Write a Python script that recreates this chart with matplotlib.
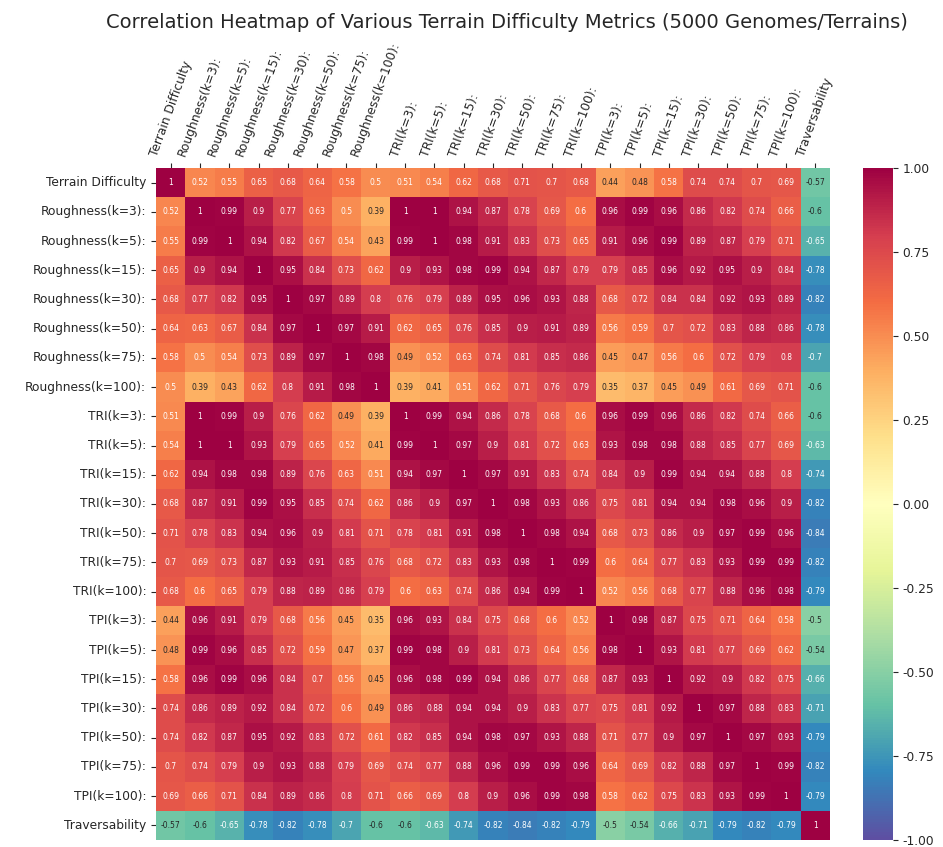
import numpy as np
import matplotlib
matplotlib.use("Agg")
import matplotlib.pyplot as plt
import seaborn as sns

labels = ["Terrain Difficulty",
          "Roughness(k=3):", "Roughness(k=5):", "Roughness(k=15):", "Roughness(k=30):",
          "Roughness(k=50):", "Roughness(k=75):", "Roughness(k=100):",
          "TRI(k=3):", "TRI(k=5):", "TRI(k=15):", "TRI(k=30):",
          "TRI(k=50):", "TRI(k=75):", "TRI(k=100):",
          "TPI(k=3):", "TPI(k=5):", "TPI(k=15):", "TPI(k=30):",
          "TPI(k=50):", "TPI(k=75):", "TPI(k=100):",
          "Traversability"]

# correlation matrix
corr = np.array([
    [1, 0.52, 0.55, 0.65, 0.68, 0.64, 0.58, 0.5, 0.51, 0.54, 0.62, 0.68, 0.71, 0.7, 0.68, 0.44, 0.48, 0.58, 0.74, 0.74, 0.7, 0.69, -0.57],
    [0.52, 1, 0.99, 0.9, 0.77, 0.63, 0.5, 0.39, 1, 1, 0.94, 0.87, 0.78, 0.69, 0.6, 0.96, 0.99, 0.96, 0.86, 0.82, 0.74, 0.66, -0.6],
    [0.55, 0.99, 1, 0.94, 0.82, 0.67, 0.54, 0.43, 0.99, 1, 0.98, 0.91, 0.83, 0.73, 0.65, 0.91, 0.96, 0.99, 0.89, 0.87, 0.79, 0.71, -0.65],
    [0.65, 0.9, 0.94, 1, 0.95, 0.84, 0.73, 0.62, 0.9, 0.93, 0.98, 0.99, 0.94, 0.87, 0.79, 0.79, 0.85, 0.96, 0.92, 0.95, 0.9, 0.84, -0.78],
    [0.68, 0.77, 0.82, 0.95, 1, 0.97, 0.89, 0.8, 0.76, 0.79, 0.89, 0.95, 0.96, 0.93, 0.88, 0.68, 0.72, 0.84, 0.84, 0.92, 0.93, 0.89, -0.82],
    [0.64, 0.63, 0.67, 0.84, 0.97, 1, 0.97, 0.91, 0.62, 0.65, 0.76, 0.85, 0.9, 0.91, 0.89, 0.56, 0.59, 0.7, 0.72, 0.83, 0.88, 0.86, -0.78],
    [0.58, 0.5, 0.54, 0.73, 0.89, 0.97, 1, 0.98, 0.49, 0.52, 0.63, 0.74, 0.81, 0.85, 0.86, 0.45, 0.47, 0.56, 0.6, 0.72, 0.79, 0.8, -0.7],
    [0.5, 0.39, 0.43, 0.62, 0.8, 0.91, 0.98, 1, 0.39, 0.41, 0.51, 0.62, 0.71, 0.76, 0.79, 0.35, 0.37, 0.45, 0.49, 0.61, 0.69, 0.71, -0.6],
    [0.51, 1, 0.99, 0.9, 0.76, 0.62, 0.49, 0.39, 1, 0.99, 0.94, 0.86, 0.78, 0.68, 0.6, 0.96, 0.99, 0.96, 0.86, 0.82, 0.74, 0.66, -0.6],
    [0.54, 1, 1, 0.93, 0.79, 0.65, 0.52, 0.41, 0.99, 1, 0.97, 0.9, 0.81, 0.72, 0.63, 0.93, 0.98, 0.98, 0.88, 0.85, 0.77, 0.69, -0.63],
    [0.62, 0.94, 0.98, 0.98, 0.89, 0.76, 0.63, 0.51, 0.94, 0.97, 1, 0.97, 0.91, 0.83, 0.74, 0.84, 0.9, 0.99, 0.94, 0.94, 0.88, 0.8, -0.74],
    [0.68, 0.87, 0.91, 0.99, 0.95, 0.85, 0.74, 0.62, 0.86, 0.9, 0.97, 1, 0.98, 0.93, 0.86, 0.75, 0.81, 0.94, 0.94, 0.98, 0.96, 0.9, -0.82],
    [0.71, 0.78, 0.83, 0.94, 0.96, 0.9, 0.81, 0.71, 0.78, 0.81, 0.91, 0.98, 1, 0.98, 0.94, 0.68, 0.73, 0.86, 0.9, 0.97, 0.99, 0.96, -0.84],
    [0.7, 0.69, 0.73, 0.87, 0.93, 0.91, 0.85, 0.76, 0.68, 0.72, 0.83, 0.93, 0.98, 1, 0.99, 0.6, 0.64, 0.77, 0.83, 0.93, 0.99, 0.99, -0.82],
    [0.68, 0.6, 0.65, 0.79, 0.88, 0.89, 0.86, 0.79, 0.6, 0.63, 0.74, 0.86, 0.94, 0.99, 1, 0.52, 0.56, 0.68, 0.77, 0.88, 0.96, 0.98, -0.79],
    [0.44, 0.96, 0.91, 0.79, 0.68, 0.56, 0.45, 0.35, 0.96, 0.93, 0.84, 0.75, 0.68, 0.6, 0.52, 1, 0.98, 0.87, 0.75, 0.71, 0.64, 0.58, -0.5],
    [0.48, 0.99, 0.96, 0.85, 0.72, 0.59, 0.47, 0.37, 0.99, 0.98, 0.9, 0.81, 0.73, 0.64, 0.56, 0.98, 1, 0.93, 0.81, 0.77, 0.69, 0.62, -0.54],
    [0.58, 0.96, 0.99, 0.96, 0.84, 0.7, 0.56, 0.45, 0.96, 0.98, 0.99, 0.94, 0.86, 0.77, 0.68, 0.87, 0.93, 1, 0.92, 0.9, 0.82, 0.75, -0.66],
    [0.74, 0.86, 0.89, 0.92, 0.84, 0.72, 0.6, 0.49, 0.86, 0.88, 0.94, 0.94, 0.9, 0.83, 0.77, 0.75, 0.81, 0.92, 1, 0.97, 0.88, 0.83, -0.71],
    [0.74, 0.82, 0.87, 0.95, 0.92, 0.83, 0.72, 0.61, 0.82, 0.85, 0.94, 0.98, 0.97, 0.93, 0.88, 0.71, 0.77, 0.9, 0.97, 1, 0.97, 0.93, -0.79],
    [0.7, 0.74, 0.79, 0.9, 0.93, 0.88, 0.79, 0.69, 0.74, 0.77, 0.88, 0.96, 0.99, 0.99, 0.96, 0.64, 0.69, 0.82, 0.88, 0.97, 1, 0.99, -0.82],
    [0.69, 0.66, 0.71, 0.84, 0.89, 0.86, 0.8, 0.71, 0.66, 0.69, 0.8, 0.9, 0.96, 0.99, 0.98, 0.58, 0.62, 0.75, 0.83, 0.93, 0.99, 1, -0.79],
    [-0.57, -0.6, -0.65, -0.78, -0.82, -0.78, -0.7, -0.6, -0.6, -0.63, -0.74, -0.82, -0.84, -0.82, -0.79, -0.5, -0.54, -0.66, -0.71, -0.79, -0.82, -0.79, 1],
])

sns.set_style("ticks")

fig = plt.figure(figsize=(9.43, 8.47), dpi=100)
ax = fig.add_axes([0.1654, 0.0083, 0.7148, 0.7934])
cax = fig.add_axes([0.9152, 0.0083, 0.0318, 0.7934])

sns.heatmap(corr, ax=ax, cbar_ax=cax, cmap="Spectral_r", vmin=-1, vmax=1,
            annot=True, annot_kws={"size": 5.5},
            xticklabels=labels, yticklabels=labels)

ax.xaxis.tick_top()
ax.tick_params(axis="x", labelsize=8.8, rotation=70, bottom=False, top=True)
ax.tick_params(axis="y", labelsize=8.8, rotation=0)
cax.tick_params(labelsize=8.8)
cax.yaxis.set_major_formatter(matplotlib.ticker.FormatStrFormatter("%.2f"))

fig.suptitle("Correlation Heatmap of Various Terrain Difficulty Metrics (5000 Genomes/Terrains)",
             fontsize=14, y=0.985, x=0.538)

fig.savefig("out.png", dpi=100)
